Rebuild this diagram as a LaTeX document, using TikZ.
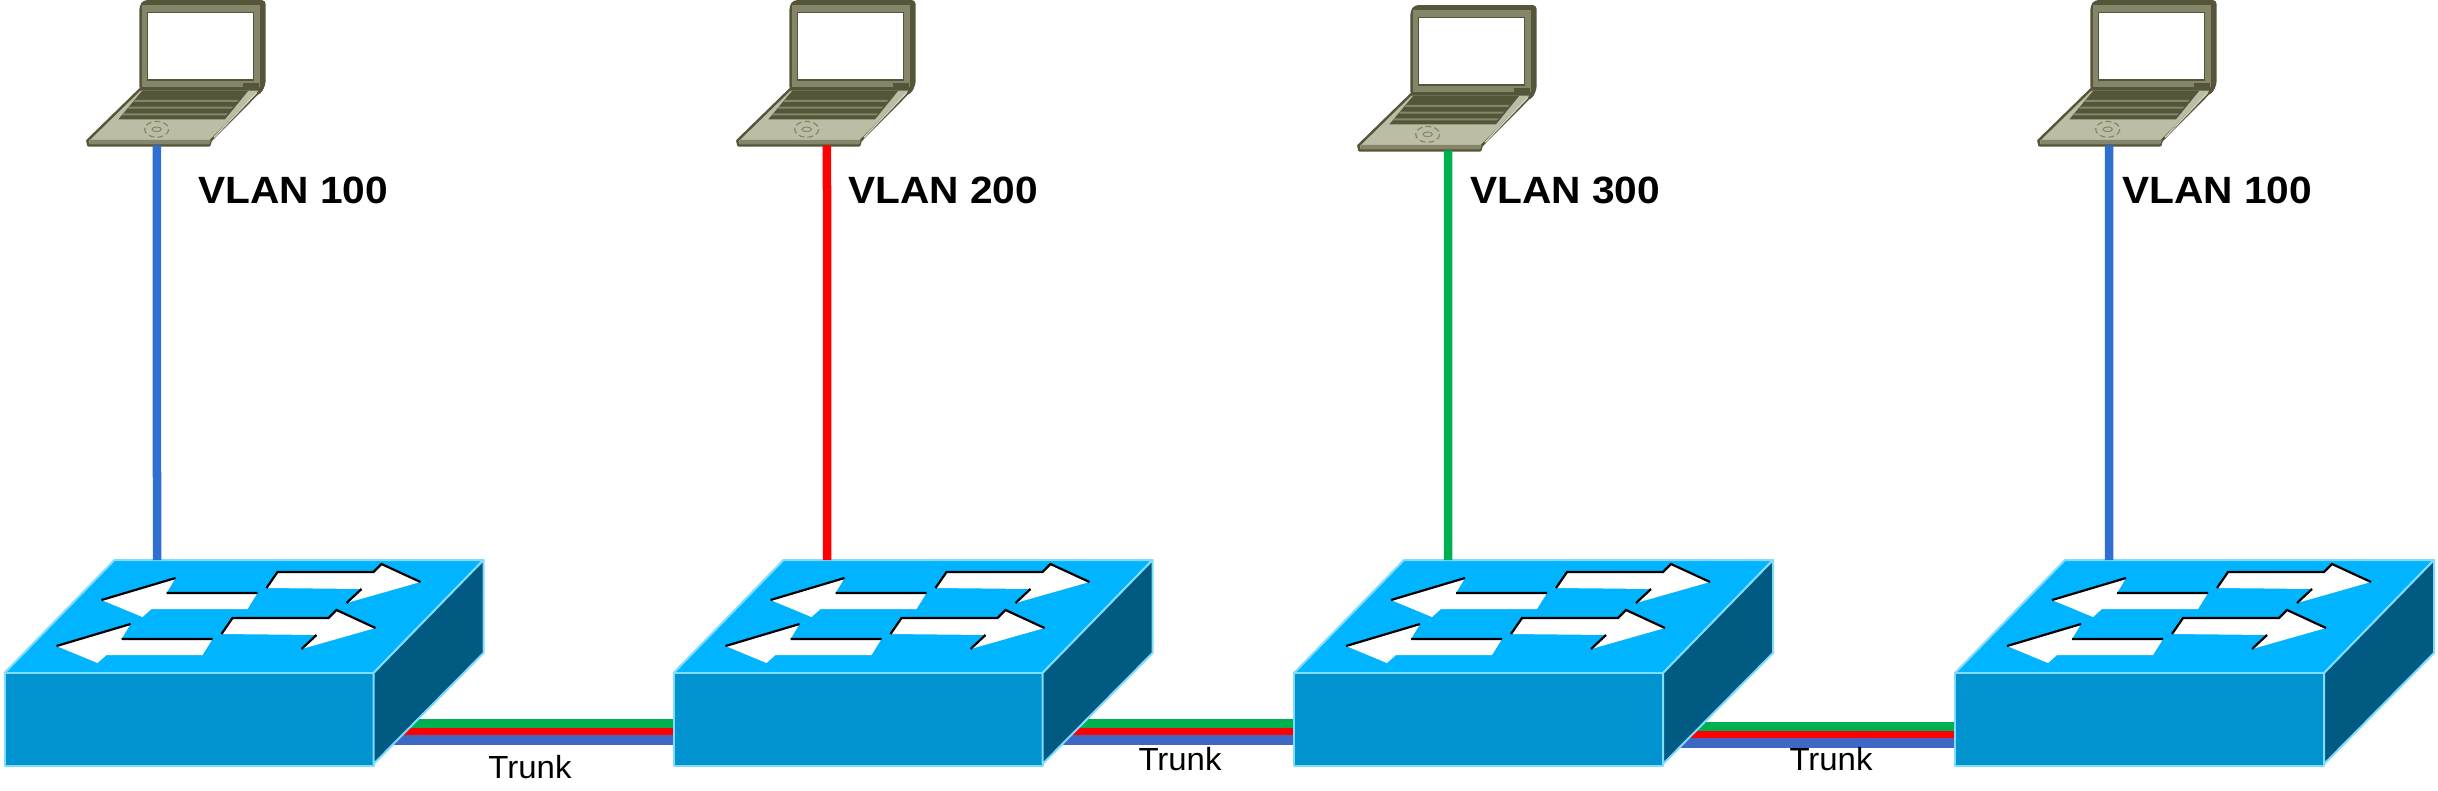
\documentclass[tikz,border=0pt]{standalone}
\usepackage{fontspec}
\setmainfont{Liberation Sans}
\definecolor{swtop}{HTML}{00B4FF}
\definecolor{swfront}{HTML}{0093D0}
\definecolor{swside}{HTML}{005A82}
\definecolor{swedge}{HTML}{80DCFF}
\definecolor{vblue}{HTML}{2F6FD2}
\definecolor{tblue}{HTML}{3F68C4}
\definecolor{vred}{HTML}{FF0000}
\definecolor{vgreen}{HTML}{00B050}
\definecolor{lapdark}{HTML}{55553A}
\definecolor{lapmid}{HTML}{85856A}
\definecolor{lapbase}{HTML}{BDBDA5}
\tikzset{
  swface/.style={line width=2pt,draw=swedge,line join=round},
  arrowface/.style={fill=white,draw=none},
  arrowshade/.style={draw=black,line width=2.2pt},
  vlanlink/.style={line width=8.5pt},
  vlanlabel/.style={font=\bfseries\fontsize{38}{38}\selectfont,anchor=west,xscale=1.07,transform shape,inner sep=0pt},
  trunklabel/.style={font=\fontsize{32}{32}\selectfont,xscale=1.03,transform shape,inner sep=0pt}
}
% #1 name, #2 x, #3 y, #4 local x of the link: local unit = one third of a pixel
\newcommand{\laptop}[4]{%
  \begin{scope}[shift={(#2pt,-#3pt)},x=.3333pt,y=-.3333pt]
    \fill[lapdark,rounded corners=4pt] (238,18)--(250,0)--(617,0)--(617,255)--(600,285)--(238,272)--cycle;
    \fill[lapmid] (247,16)--(600,16)--(600,262)--(247,262)--cycle;
    \fill[white,draw=lapdark,line width=1.4pt] (262,38) rectangle (580,240);
    \fill[lapdark] (550,248) rectangle (598,262);
    \filldraw[fill=lapbase,draw=lapdark,line width=2.4pt,line join=round] (240,268)--(605,268)--(452,422)--(448,436)--(85,436)--(82,422)--cycle;
    \fill[lapmid] (88,420)--(452,420)--(448,433)--(88,433)--cycle;
    \fill[lapdark] (247,272)--(565,272)--(495,358)--(175,358)--cycle;
    \fill[lapmid] (226,300)--(536,300)--(530,306)--(220,306)--cycle;
    \fill[lapmid] (208,320)--(520,320)--(514,326)--(202,326)--cycle;
    \fill[lapmid] (190,340)--(504,340)--(498,346)--(184,346)--cycle;
    \draw[lapbase!60!white,line width=1.2pt] (590,278)--(462,412);
    \draw[lapmid,line width=1.2pt,dash pattern=on 6pt off 3pt] (290,388) ellipse [x radius=36,y radius=24];
    \draw[lapmid,line width=1pt] (290,388) ellipse [x radius=14,y radius=7];
    \coordinate (#1) at (#4,436);
  \end{scope}}
% #1 name, #2 x of front-left corner, #3 local x of the link on top
\newcommand{\switchbox}[3]{%
  \begin{scope}[shift={(#2pt,0pt)}]
    \filldraw[swface,fill=swtop] (0,673)--(110,560)--(479,560)--(369,673)--cycle;
    \filldraw[swface,fill=swfront] (0,673) rectangle (369,766);
    \filldraw[swface,fill=swside] (369,673)--(479,560)--(479,653)--(369,764)--cycle;
    \foreach \dx/\dy in {0/0,-45/46}{
      \begin{scope}[shift={(\dx pt,-\dy pt)}]
        \fill[arrowface] (97,600)--(171,578)--(162,593)--(253,593)--(243,609)--(147,609)--(138,617)--cycle;
        \draw[arrowshade] (97,600)--(171,578) (162,593)--(253,593);
        \fill[arrowface] (262,588)--(273,572)--(369,572)--(377,564)--(416,582)--(342,603)--(357,589)--cycle;
        \draw[arrowshade] (262,588)--(273,572)--(369,572)--(377,564)--(416,582) (342,603)--(357,589);
      \end{scope}}
    \coordinate (#1) at (#3,560);
  \end{scope}}
% #1 left x, #2 right x, #3 top y of green line
\newcommand{\trunk}[3]{%
  \coordinate (ta) at (#1,#3);
  \coordinate (tb) at (#2,#3);
  \draw[line width=9pt,vgreen] ([yshift=-4.5pt]ta)--([yshift=-4.5pt]tb);
  \draw[line width=7pt,vred] ([yshift=-12.5pt]ta)--([yshift=-12.5pt]tb);
  \draw[line width=10pt,tblue] ([yshift=-21pt]ta)--([yshift=-21pt]tb);}
\begin{document}
\begin{tikzpicture}[x=1pt,y=-1pt]
  \useasboundingbox (0,0) rectangle (2438,790);
  \trunk{360}{690}{719}
  \trunk{1030}{1310}{719}
  \trunk{1650}{1970}{722}
  \switchbox{swa}{4.5}{152.5}
  \switchbox{swb}{673.5}{153.5}
  \switchbox{swc}{1294}{154}
  \switchbox{swd}{1955}{154}
  \laptop{lapa}{60}{0}{291}
  \laptop{lapb}{710}{0}{351}
  \laptop{lapc}{1331}{5}{351}
  \laptop{lapd}{2011}{0}{294}
  \draw[vlanlink,vblue] (lapa)--(swa);
  \draw[vlanlink,vred] (lapb)--(swb);
  \draw[vlanlink,vgreen] (lapc)--(swc);
  \draw[vlanlink,vblue] (lapd)--(swd);
  \node[vlanlabel] (la) at (198,190) {VLAN 100};
  \node[vlanlabel] (lb) at (848,190) {VLAN 200};
  \node[vlanlabel] (lc) at (1470,190) {VLAN 300};
  \node[vlanlabel] (ld) at (2122,190) {VLAN 100};
  \node[trunklabel] (ta1) at (530,767) {Trunk};
  \node[trunklabel] (ta2) at (1180,759) {Trunk};
  \node[trunklabel] (ta3) at (1831,759) {Trunk};
\end{tikzpicture}
\end{document}
